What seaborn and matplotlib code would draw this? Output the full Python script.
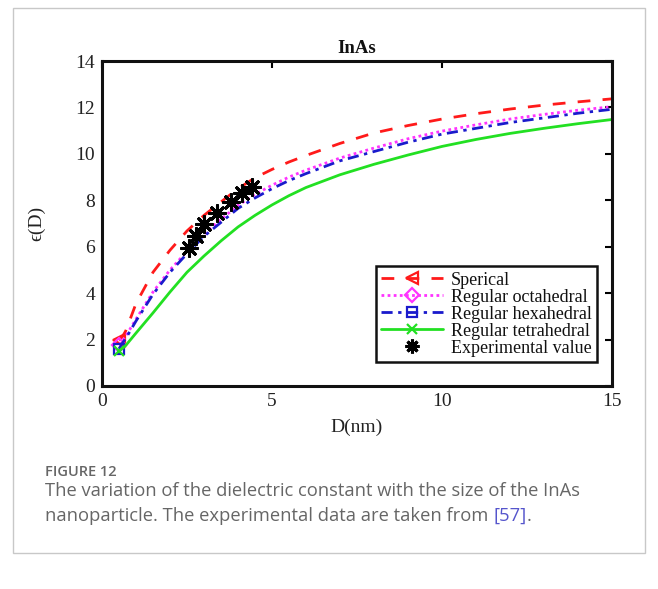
import matplotlib
matplotlib.use("Agg")
import matplotlib.pyplot as plt
from matplotlib.lines import Line2D
from matplotlib.patches import Rectangle
import numpy as np
import pandas as pd
import seaborn as sns

# Particle size D (nm) and dielectric constant for each particle shape
D_nm = [0.5, 0.6, 0.7, 1.0, 1.5, 2.0, 2.5, 3.0, 3.5, 4.0, 4.5, 5.0, 5.5,
        6.0, 7.0, 8.0, 9.0, 10.0, 11.0, 12.0, 13.0, 14.0, 15.0]
eps_spherical = [1.97, 2.12, 2.38, 3.55, 4.90, 5.85, 6.68, 7.35, 7.93, 8.50,
                 8.97, 9.33, 9.65, 9.93, 10.45, 10.90, 11.22, 11.50, 11.73,
                 11.93, 12.10, 12.24, 12.37]
eps_octahedral = [1.78, 1.95, 2.15, 2.88, 4.05, 5.00, 5.80, 6.55, 7.18, 7.78,
                  8.25, 8.65, 9.00, 9.30, 9.82, 10.25, 10.65, 10.98, 11.25,
                  11.50, 11.70, 11.88, 12.03]
eps_hexahedral = [1.60, 1.85, 2.05, 2.80, 3.95, 4.90, 5.70, 6.45, 7.05, 7.65,
                  8.10, 8.50, 8.85, 9.15, 9.70, 10.10, 10.50, 10.85, 11.10,
                  11.35, 11.55, 11.75, 11.92]
eps_tetrahedral = [1.50, 1.62, 1.75, 2.28, 3.15, 4.05, 4.90, 5.60, 6.25, 6.85,
                   7.35, 7.80, 8.20, 8.55, 9.10, 9.55, 9.95, 10.32, 10.62,
                   10.88, 11.10, 11.30, 11.48]

# Experimental values
D_exp = [2.55, 2.75, 3.00, 3.37, 3.78, 4.13, 4.42]
eps_exp = [5.93, 6.45, 6.98, 7.45, 7.93, 8.33, 8.59]

labels = ["Sperical", "Regular octahedral", "Regular hexahedral",
          "Regular tetrahedral", "Experimental value"]
x_ticks = [0, 5, 10, 15]
y_ticks = [0, 2, 4, 6, 8, 10, 12, 14]

sns.set_theme(style="white")
serif = ["Liberation Serif", "DejaVu Serif"]
plt.rcParams["font.family"] = serif

W, H = 658, 589
fig = plt.figure(figsize=(W / 100, H / 100), dpi=100)
fig.patch.set_facecolor("white")

# card frame around figure and caption
fig.patches.append(Rectangle((13 / W, 1 - 553 / H), (645 - 13) / W, (553 - 8) / H,
                             transform=fig.transFigure, fill=False,
                             edgecolor="#c8c8c8", linewidth=1.0))

ax = fig.add_axes([102 / W, 1 - 386 / H, 510 / W, 325 / H])

curves = pd.DataFrame({
    "D": D_nm * 4,
    "eps": eps_spherical + eps_octahedral + eps_hexahedral + eps_tetrahedral,
    "shape": sum([[lab] * len(D_nm) for lab in labels[:4]], []),
})

styles = {
    "Sperical": dict(color="#ff1a1a", dashes=(4.6, 4.4), marker="<", ms=8, mew=1.6),
    "Regular octahedral": dict(color="#ff33ff", dashes=(1.0, 1.2), marker="D", ms=7, mew=1.6),
    "Regular hexahedral": dict(color="#1a1acc", dashes=(4.0, 2.0, 1.2, 2.0), marker="s", ms=7, mew=1.6),
    "Regular tetrahedral": dict(color="#22e022", dashes=None, marker="x", ms=7, mew=1.6),
}

handles = []
for lab in labels[:4]:
    st = styles[lab]
    sub = curves[curves["shape"] == lab]
    kw = dict(lw=2.0, marker=st["marker"], markevery=[0], ms=st["ms"],
              mfc="none", mec=st["color"], mew=st["mew"])
    sns.lineplot(data=sub, x="D", y="eps", ax=ax, color=st["color"],
                 estimator=None, sort=False, legend=False, **kw)
    line = ax.lines[-1]
    if st["dashes"] is not None:
        line.set_dashes(st["dashes"])
    h = Line2D([], [], color=st["color"], lw=2.0, marker=st["marker"], ms=st["ms"],
               mfc="none", mec=st["color"], mew=st["mew"])
    if st["dashes"] is not None:
        h.set_dashes(st["dashes"])
    handles.append(h)

exp_df = pd.DataFrame({"D": D_exp, "eps": eps_exp})
star = (8, 2, 0)
sns.scatterplot(data=exp_df, x="D", y="eps", ax=ax, marker=star, s=130,
                color="black", linewidth=2.2, edgecolor="black", zorder=5)
handles.append(Line2D([], [], ls="none", marker=star, ms=10, color="black", mew=2.2))

ax.set_xlim(0, 15)
ax.set_ylim(0, 14)
ax.set_xticks(x_ticks)
ax.set_yticks(y_ticks)
ax.set_xticklabels([str(v) for v in x_ticks])
ax.set_yticklabels([str(v) for v in y_ticks])
ax.tick_params(direction="in", length=5, width=1.5, color="black",
               top=True, right=True, labelsize=14, labelcolor="#222222", pad=5)
for sp in ax.spines.values():
    sp.set_visible(True)
    sp.set_color("#111111")
    sp.set_linewidth(2.2)

ax.set_xlabel("D(nm)", fontsize=14, color="#222222", labelpad=6)
ax.set_ylabel("ϵ(D)", fontsize=14, color="#222222", labelpad=22)
ax.set_title("InAs", fontsize=13.5, fontweight="bold", color="#111111", pad=6)

leg = ax.legend(handles, labels, loc="lower right",
                bbox_to_anchor=(0.9706, 0.0738), borderaxespad=0,
                fontsize=13, frameon=True, fancybox=False, framealpha=1,
                edgecolor="#111111", handlelength=3.4, handletextpad=0.45,
                labelspacing=0.0, borderpad=0.3, numpoints=1)
leg.get_frame().set_linewidth(1.8)
for t in leg.get_texts():
    t.set_color("#111111")

# caption
cap_font = ["Open Sans", "DejaVu Sans"]
fig.text(45 / W, 1 - 472 / H, "FIGURE 12", fontsize=10.5, color="#666666",
         family=cap_font, weight="semibold", va="center")
fig.text(45 / W, 1 - 491 / H, "The variation of the dielectric constant with the size of the InAs",
         fontsize=13.2, color="#666666", family=cap_font, va="center")
t1 = fig.text(45 / W, 1 - 516 / H, "nanoparticle. The experimental data are taken from ",
              fontsize=13.2, color="#666666", family=cap_font, va="center")
fig.canvas.draw()
x2 = t1.get_window_extent().x1 / W
t2 = fig.text(x2, 1 - 516 / H, "[57]", fontsize=13.2, color="#5555cc",
              family=cap_font, va="center")
fig.canvas.draw()
x3 = t2.get_window_extent().x1 / W
fig.text(x3, 1 - 516 / H, ".", fontsize=13.2, color="#666666",
         family=cap_font, va="center")

fig.savefig("out.png", dpi=100)
